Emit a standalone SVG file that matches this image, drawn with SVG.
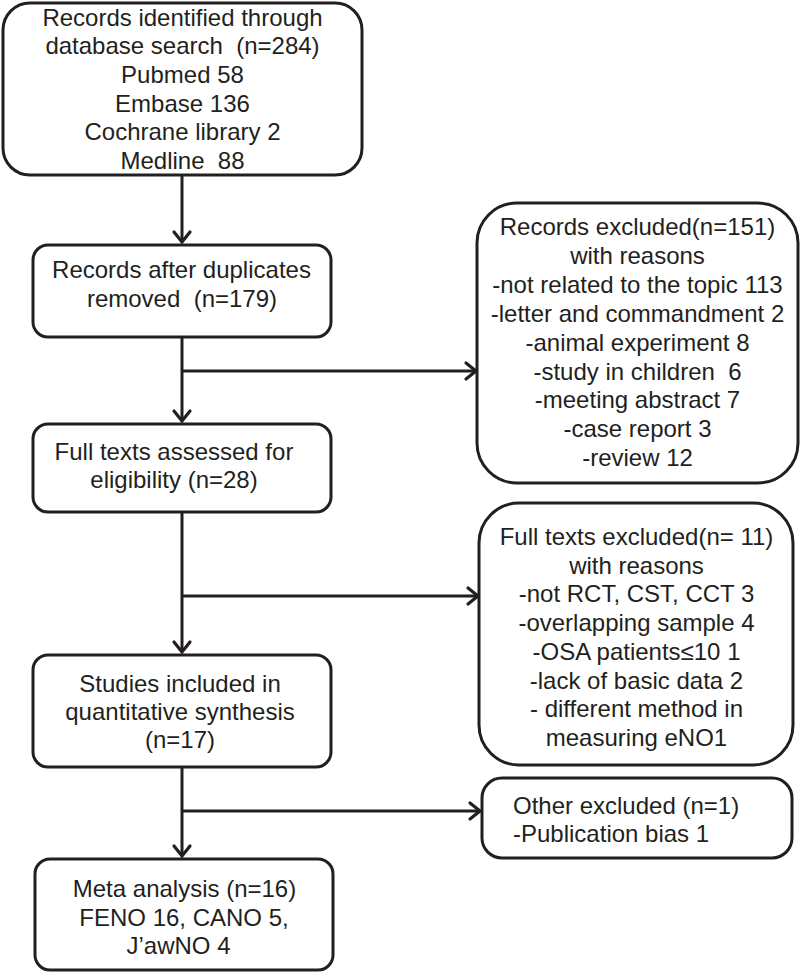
<svg xmlns="http://www.w3.org/2000/svg" width="800" height="972" viewBox="0 0 800 972">
<style>
  .box { fill: #ffffff; stroke: #231f20; stroke-width: 3; }
  .t { font-family: "Liberation Sans", Arial, sans-serif; font-size: 24px; fill: #231f20; text-anchor: middle; white-space: pre; }
  .l { text-anchor: start; }
  .c { fill: none; stroke: #231f20; stroke-width: 3; }
</style>
<defs>
  <marker id="arr" markerUnits="userSpaceOnUse" markerWidth="24" markerHeight="24" viewBox="-14 -12 16 24" refX="0" refY="0" orient="auto">
    <path d="M-10,-8 L0,0 L-10,8" fill="none" stroke="#231f20" stroke-width="3.2" stroke-linecap="round" stroke-linejoin="miter"/>
  </marker>
</defs>
<rect width="800" height="972" fill="#ffffff"/>

<g id="connectors">
  <path class="c" d="M182,175 V242" marker-end="url(#arr)"/>
  <path class="c" d="M182,337 V421" marker-end="url(#arr)"/>
  <path class="c" d="M182,371 H476" marker-end="url(#arr)"/>
  <path class="c" d="M182,512 V652" marker-end="url(#arr)"/>
  <path class="c" d="M182,596 H478" marker-end="url(#arr)"/>
  <path class="c" d="M182,767 V856" marker-end="url(#arr)"/>
  <path class="c" d="M182,811 H480" marker-end="url(#arr)"/>
</g>

<g id="identified">
  <rect class="box" x="3" y="3" width="359" height="172" rx="27"/>
  <text class="t" x="182.5" y="26">Records identified through</text>
  <text class="t" x="182.5" y="54">database search  (n=284)</text>
  <text class="t" x="182.5" y="83">Pubmed 58</text>
  <text class="t" x="182.5" y="112">Embase 136</text>
  <text class="t" x="182.5" y="140">Cochrane library 2</text>
  <text class="t" x="182.5" y="169">Medline  88</text>
</g>

<g id="duplicates">
  <rect class="box" x="33" y="245" width="298" height="92" rx="15"/>
  <text class="t" x="181.5" y="278">Records after duplicates</text>
  <text class="t" x="182" y="307">removed  (n=179)</text>
</g>

<g id="fulltexts">
  <rect class="box" x="33" y="424" width="298" height="88" rx="15"/>
  <text class="t" x="174" y="460">Full texts assessed for</text>
  <text class="t" x="174" y="488">eligibility (n=28)</text>
</g>

<g id="included">
  <rect class="box" x="33" y="655" width="298" height="112" rx="15"/>
  <text class="t" x="180" y="692">Studies included in</text>
  <text class="t" x="180" y="720">quantitative synthesis</text>
  <text class="t" x="180" y="748">(n=17)</text>
</g>

<g id="meta">
  <rect class="box" x="35" y="859" width="298" height="111" rx="15"/>
  <text class="t" x="184.5" y="897">Meta analysis (n=16)</text>
  <text class="t" x="184" y="926">FENO 16, CANO 5,</text>
  <text class="t" x="178.5" y="954">J’awNO 4</text>
</g>

<g id="records-excluded">
  <rect class="box" x="477" y="203" width="321" height="280" rx="40"/>
  <text class="t" x="637.5" y="235">Records excluded(n=151)</text>
  <text class="t" x="637.5" y="264">with reasons</text>
  <text class="t" x="637.5" y="293">-not related to the topic 113</text>
  <text class="t" x="637.5" y="322">-letter and commandment 2</text>
  <text class="t" x="637.5" y="351">-animal experiment 8</text>
  <text class="t" x="637.5" y="380">-study in children  6</text>
  <text class="t" x="637.5" y="408">-meeting abstract 7</text>
  <text class="t" x="637.5" y="437">-case report 3</text>
  <text class="t" x="637.5" y="466">-review 12</text>
</g>

<g id="fulltexts-excluded">
  <rect class="box" x="479" y="503" width="314" height="262" rx="40"/>
  <text class="t" x="636.5" y="545">Full texts excluded(n= 11)</text>
  <text class="t" x="636.5" y="574">with reasons</text>
  <text class="t" x="636.5" y="602">-not RCT, CST, CCT 3</text>
  <text class="t" x="636.5" y="631">-overlapping sample 4</text>
  <text class="t" x="636.5" y="660">-OSA patients≤10 1</text>
  <text class="t" x="636.5" y="689">-lack of basic data 2</text>
  <text class="t" x="636.5" y="717">- different method in</text>
  <text class="t" x="636.5" y="746">measuring eNO1</text>
</g>

<g id="other-excluded">
  <rect class="box" x="482" y="778" width="310" height="80" rx="20"/>
  <text class="t l" x="513" y="814">Other excluded (n=1)</text>
  <text class="t l" x="513" y="842">-Publication bias 1</text>
</g>
</svg>
